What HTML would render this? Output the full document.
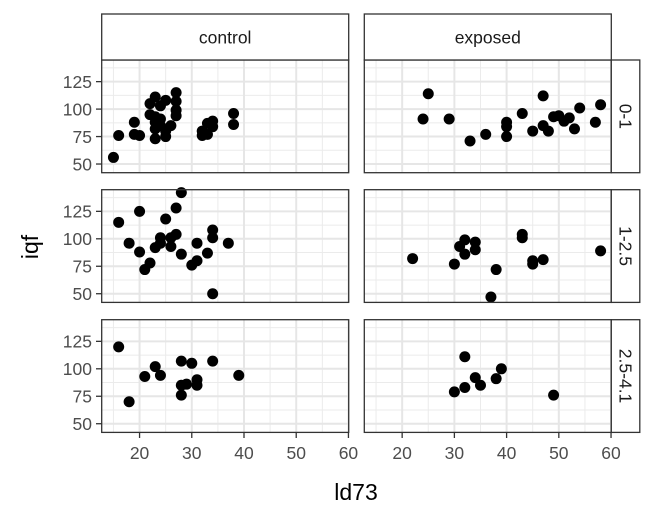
<!DOCTYPE html>
<html><head><meta charset="utf-8"><style>
body{margin:0;background:#fff;}
svg{display:block;font-family:"Liberation Sans",Arial,sans-serif;}
</style></head><body>
<svg id="chart" width="672" height="518"></svg>
<script>
const colLabels = ["control","exposed"];
const rowLabels = ["0-1","1-2.5","2.5-4.1"];
const xTicks = [20,30,40,50,60];
const yTicks = [50,75,100,125];
const c0x=[15,16,19,19,20,22,22,23,23,23,23,23,24,24,24,25,25,25,26,27,27,27,27,32,33,32,33,34,34,38,38];
const c0y=[56,76,88,77,76,105,95,111,73,88,82,93,103,91,85,108,75,80,85,115,107,99,94,76,77,80,87,89,84,96,86];
const e0x=[25,24,29,33,36,40,40,40,43,47,45,47,48,49,50,51,52,53,54,57,58];
const e0y=[114,91,91,71,77,88,84,75,96,112,80,85,80,93,94,89,92,82,101,88,104];
const c1x=[16,20,18,20,21,22,23,24,24,25,26,26,27,27,28,28,30,31,31,33,34,34,34,37];
const c1y=[115,125,96,88,72,78,92,101,96,118,101,93,128,104,142,86,76,80,96,87,108,101,50,96];
const e1x=[22,30,31,32,32,34,34,38,37,43,43,45,45,47,58];
const e1y=[82,77,93,99,86,97,90,72,47,104,101,80,77,81,89];
const c2x=[16,18,21,23,24,28,28,29,28,30,31,31,34,39];
const c2y=[120,70,93,102,94,107,85,86,76,105,90,85,107,94];
const e2x=[30,32,32,34,35,38,39,49];
const e2y=[79,111,83,92,85,91,100,76];
const panels=[[[c0x,c0y],[e0x,e0y]],[[c1x,c1y],[e1x,e1y]],[[c2x,c2y],[e2x,e2y]]];

const NS="http://www.w3.org/2000/svg";
const svg=document.getElementById('chart');
function mk(tag,attrs,parent){const e=document.createElementNS(NS,tag);for(const k in attrs)e.setAttribute(k,attrs[k]);(parent||svg).appendChild(e);return e;}
const colLeft=[101.7,364.3], pw=247, rowTop=[60,189.7,319.7], ph=112.7;
const xMin=12.75, xMax=60.05, yMin=42.1, yMax=144.7;
function sx(c,v){return colLeft[c]+(v-xMin)/(xMax-xMin)*pw;}
function sy(r,v){return rowTop[r]+(yMax-v)/(yMax-yMin)*ph;}

for(let r=0;r<3;r++){
  for(let c=0;c<2;c++){
    const g=mk('g',{});
    
    
    mk('rect',{x:colLeft[c],y:rowTop[r],width:pw,height:ph,fill:'#fff'},g);
    for(let v=15;v<60;v+=10){mk('line',{x1:sx(c,v),x2:sx(c,v),y1:rowTop[r],y2:rowTop[r]+ph,stroke:'#ebebeb','stroke-width':1},g);}
    for(let v=62.5;v<145;v+=25){mk('line',{x1:colLeft[c],x2:colLeft[c]+pw,y1:sy(r,v),y2:sy(r,v),stroke:'#ebebeb','stroke-width':1},g);}
    xTicks.forEach(v=>mk('line',{x1:sx(c,v),x2:sx(c,v),y1:rowTop[r],y2:rowTop[r]+ph,stroke:'#e6e6e6','stroke-width':2},g));
    yTicks.forEach(v=>mk('line',{x1:colLeft[c],x2:colLeft[c]+pw,y1:sy(r,v),y2:sy(r,v),stroke:'#e6e6e6','stroke-width':2},g));
    const [xs,ys]=panels[r][c];
    xs.forEach((xv,i)=>{
      const p=mk('circle',{cx:sx(c,xv),cy:sy(r,ys[i]),r:5.5,fill:'#000'},g);
      
      
    });
    mk('rect',{x:colLeft[c],y:rowTop[r],width:pw,height:ph,fill:'none',stroke:'#333','stroke-width':1.3},g);
  }
  yTicks.forEach(v=>{
    mk('line',{x1:96,x2:101.7,y1:sy(r,v),y2:sy(r,v),stroke:'#333','stroke-width':1.3});
    const t=mk('text',{x:92,y:sy(r,v)+6.3,'text-anchor':'end','font-size':17.5,fill:'#4d4d4d'});
    t.textContent=v;
    
    
  });
  const sg=mk('g',{});
  
  
  mk('rect',{x:611.3,y:rowTop[r],width:28.5,height:ph,fill:'#fff',stroke:'#333','stroke-width':1.3},sg);
  const cy=rowTop[r]+ph/2, cx=625.5;
  const st=mk('text',{x:cx,y:cy,'text-anchor':'middle','dominant-baseline':'central','font-size':17.5,fill:'#1a1a1a',transform:`rotate(90 ${cx} ${cy})`},sg);
  st.textContent=rowLabels[r];
}
for(let c=0;c<2;c++){
  const sg=mk('g',{});
  
  
  mk('rect',{x:colLeft[c],y:14,width:pw,height:46,fill:'#fff',stroke:'#333','stroke-width':1.3},sg);
  const t=mk('text',{x:colLeft[c]+pw/2,y:43.5,'text-anchor':'middle','font-size':17.5,fill:'#1a1a1a'},sg);
  t.textContent=colLabels[c];
  xTicks.forEach(v=>{
    mk('line',{x1:sx(c,v),x2:sx(c,v),y1:432.4,y2:438,stroke:'#333','stroke-width':1.3});
    const tl=mk('text',{x:sx(c,v),y:459,'text-anchor':'middle','font-size':17.5,fill:'#4d4d4d'});
    tl.textContent=v;
    
    
  });
}
const xt=mk('text',{x:356,y:500,'text-anchor':'middle','font-size':23,fill:'#000'});
xt.textContent='ld73';


const yt=mk('text',{x:38,y:247,'text-anchor':'middle','font-size':23,fill:'#000',transform:'rotate(-90 38 247)'});
yt.textContent='iqf';


</script>
</body></html>
